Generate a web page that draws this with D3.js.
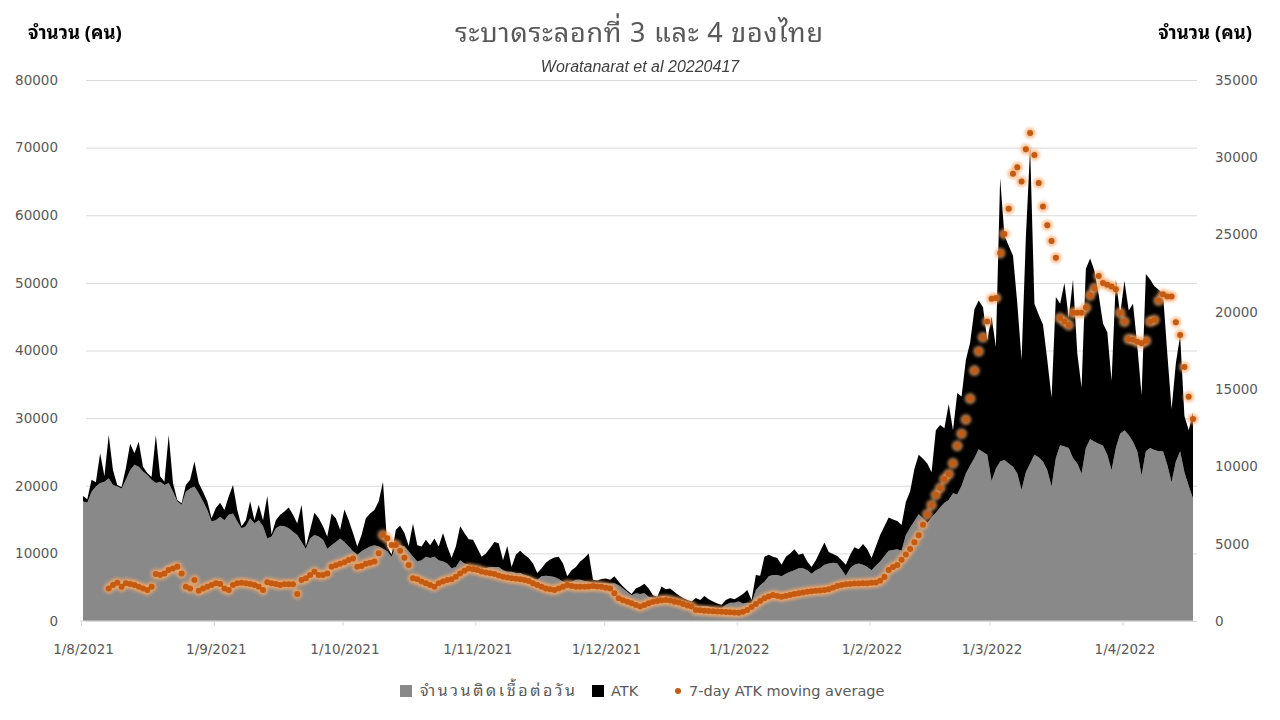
<!DOCTYPE html>
<html>
<head>
<meta charset="utf-8">
<script src="https://cdn.jsdelivr.net/npm/d3@7"></script>
<style>
  body { margin: 0; background: #fff; }
  svg { display: block; }
  .thai { font-family: Tahoma, "Noto Sans Thai Looped", Loma, Garuda, Waree, "Noto Sans Thai", "Noto Sans", sans-serif; }
  .num { font-family: "DejaVu Sans", Verdana, sans-serif; }
</style>
</head>
<body>
<div id="chart"></div>
<script>
//data, one value per day from 1/8/2021 **********************************************************************************
var startDate = new Date(2021, 7, 1);

// daily confirmed cases (grey area)
var cases = [
  17700,17500,19100,19900,20400,20600,21100,20100,19900,19600,
  20900,22300,23100,22800,22100,21600,20900,20400,20600,20100,
  20400,19100,17700,17200,19100,19600,19900,18900,17700,16400,
  14700,14900,15400,14900,15700,15900,14700,13700,14000,15200,
  14400,14900,14000,12200,12500,13700,14100,14000,13700,13200,
  12700,11700,10700,12200,12700,12500,12000,10700,11200,11700,
  12200,11700,11000,10300,9800,10300,10700,11000,11200,11000,
  10700,10300,9500,11000,11200,11000,10300,9500,8800,9000,
  9500,9300,9500,9000,8800,8500,7800,8000,9000,8500,
  8300,8000,8000,7800,7800,8000,8000,8000,7500,7300,
  7300,7100,7100,6800,6600,6300,6100,6600,6700,6600,
  6500,6200,5800,5600,5800,6100,6100,5900,5800,5600,
  5600,5600,5600,5500,5600,5300,4800,4300,3800,4100,
  4000,4100,3600,3400,3100,3700,3600,3400,3100,2900,
  2700,2400,2100,2100,2100,2200,2100,2000,1900,1900,
  2400,2700,2700,2900,2600,2700,2600,4600,5300,5800,
  6600,6800,6800,6600,7000,7300,7500,7800,7800,7500,
  7000,7500,7800,8300,8500,8600,8500,7600,6700,7800,
  8300,8500,8300,8000,7500,8200,8800,9600,10400,10500,
  10600,10400,12700,13800,14800,15800,15200,14500,15300,16000,
  16800,17500,17900,18900,18700,20000,21800,23000,24100,25400,
  25000,24600,20700,22500,23600,23800,23300,22800,21800,19400,
  22000,23300,24600,24200,23600,22300,19900,24100,26000,25800,
  25600,24100,23300,21800,25600,26900,26500,26200,25900,24600,
  22300,25600,27700,28200,27500,26500,25100,21500,25100,25600,
  25300,25100,25100,23100,20500,23600,25100,22000,20000,18100
];

// daily ATK positives (black area, stacked on cases)
var atk = [
  800,500,1800,600,4400,800,6400,2200,200,200,
  1700,3900,1700,3700,700,300,400,7100,800,500,
  7100,1300,200,200,1000,1300,3700,1500,1400,1300,
  500,1800,2100,1500,2700,4200,1700,300,900,2500,
  500,2300,900,6300,300,1200,1600,2200,3100,2500,
  1700,5500,300,1300,3300,2700,2000,1800,4700,3500,
  1300,4800,3900,2700,1200,2400,4500,4900,5200,6700,
  9900,700,300,2500,2900,2000,800,4900,2400,2000,
  2500,1900,2700,2000,4200,2500,1500,3000,5000,4500,
  3800,4000,2800,1700,2200,2800,3700,3500,1500,3800,
  700,2700,3300,3000,2700,2200,1000,1200,1900,2500,
  2900,3300,2700,1000,1700,1900,2700,3400,4200,500,
  400,600,700,600,1000,500,300,200,200,700,
  1100,1400,1200,400,500,1400,1100,1400,1200,900,
  700,700,800,1300,1000,1500,1100,900,700,500,
  700,700,500,700,1400,1900,500,2200,1400,3700,
  3200,2700,2500,1700,2500,2700,3100,2000,2200,1300,
  1000,1500,2500,3300,1700,1300,1100,1400,1600,2000,
  2600,2100,3100,2600,1800,2800,3900,4400,4900,4500,
  4200,3800,4900,5400,7700,8800,8800,8800,6700,12200,
  12200,11000,14200,9300,15000,13200,16800,18200,22000,22000,
  21400,16900,24300,18000,41900,33200,32200,31200,25200,19200,
  34700,46700,22300,21100,20200,16300,13100,23800,20900,24200,
  19200,26400,16300,12700,26500,26700,25300,22000,18100,18100,
  13200,24900,17600,22100,18400,20400,15600,11900,26200,24900,
  24200,23900,23300,16500,10800,14500,17100,8300,8200,12700
];

// 7-day ATK moving average (orange dots, right axis)
var atkAvg = [
  null,null,null,null,null,null,2110,2330,2480,2220,
  2440,2390,2330,2220,2110,2005,2220,3040,2975,3080,
  3300,3400,3510,3080,2220,2110,2650,1960,2110,2220,
  2330,2440,2390,2110,2005,2330,2440,2480,2440,2390,
  2330,2220,2005,2500,2440,2400,2330,2380,2380,2380,
  1750,2650,2760,2975,3190,2975,2975,3080,3510,3600,
  3700,3800,3945,4050,3510,3560,3700,3770,3850,4380,
  5560,5350,4915,4915,4550,4100,3620,2760,2700,2550,
  2440,2330,2220,2440,2550,2650,2700,2870,3080,3250,
  3400,3350,3300,3200,3130,3090,3040,2950,2870,2810,
  2760,2730,2700,2650,2590,2450,2330,2220,2110,2050,
  2005,2100,2220,2330,2270,2220,2220,2220,2240,2260,
  2240,2220,2150,2110,1800,1470,1350,1250,1150,1035,
  930,1030,1150,1250,1300,1340,1360,1320,1250,1190,
  1100,1000,930,710,690,670,650,630,610,600,
  580,560,550,540,600,710,900,1100,1300,1470,
  1580,1680,1620,1570,1620,1680,1740,1790,1850,1900,
  1930,1960,1980,2005,2050,2150,2270,2330,2380,2400,
  2420,2430,2440,2450,2470,2490,2600,2850,3300,3500,
  3630,3970,4300,4650,5100,5550,6230,6900,7500,8160,
  8610,9180,9500,10200,11330,12120,13030,14390,16200,17450,
  18350,19370,20850,20900,23800,25040,26670,28940,29350,28440,
  30520,31570,30140,28330,26810,25610,24590,23500,19600,19370,
  19150,19940,19940,19940,20280,21070,21530,22320,21870,21750,
  21640,21460,19940,19370,18240,18200,18060,17970,18130,19370,
  19480,20730,21140,21000,21000,19330,18510,16430,14500,13070
];

var leftTicks = [0,10000,20000,30000,40000,50000,60000,70000,80000];
var rightTicks = [0,5000,10000,15000,20000,25000,30000,35000];
var monthTicks = [
  new Date(2021,7,1), new Date(2021,8,1), new Date(2021,9,1), new Date(2021,10,1),
  new Date(2021,11,1), new Date(2022,0,1), new Date(2022,1,1), new Date(2022,2,1), new Date(2022,3,1)
];

var titleText = "ระบาดระลอกที่ 3 และ 4 ของไทย";
var subtitleText = "Woratanarat et al 20220417";
var axisTitle = "จำนวน (คน)";
var seriesNames = ["จำนวนติดเชื้อต่อวัน", "ATK", "7-day ATK moving average"];

//variables ************************************************************
var width = 1280, height = 720;
var plotL = 83, plotR = 1193, plotT = 80, plotB = 621;
var grey = "#898989", orange = "#C55A11";

var rows = cases.map(function(c, i) {
  return { date: d3.timeDay.offset(startDate, i), cases: c, atk: atk[i], avg: atkAvg[i] };
});

var x = d3.scaleTime()
  .domain([startDate, rows[rows.length - 1].date])
  .range([plotL, plotR]);
var yL = d3.scaleLinear().domain([0, 80000]).range([plotB, plotT]);
var yR = d3.scaleLinear().domain([0, 35000]).range([plotB, plotT]);

var svg = d3.select("#chart").append("svg")
  .attr("width", width)
  .attr("height", height);

var defs = svg.append("defs");
defs.append("filter").attr("id", "glow")
  .attr("x", "-100%").attr("y", "-100%").attr("width", "300%").attr("height", "300%")
  .append("feGaussianBlur").attr("stdDeviation", 1.8);

//grid + axes ************************************************************
svg.append("g")
  .attr("transform", "translate(" + plotL + ",0)")
  .call(d3.axisLeft(yL).tickValues(leftTicks).tickSize(-(plotR - plotL + 4)).tickFormat(d3.format("d")))
  .call(function(g) {
    g.select(".domain").remove();
    g.selectAll(".tick line").attr("stroke", "#d9d9d9").attr("x1", 3);
    g.selectAll(".tick text").attr("class", "num").attr("x", -25)
      .attr("fill", "#595959").style("font-size", "13.5px");
  });

svg.append("g")
  .attr("transform", "translate(" + plotR + ",0)")
  .call(d3.axisRight(yR).tickValues(rightTicks).tickSize(0).tickFormat(d3.format("d")))
  .call(function(g) {
    g.select(".domain").remove();
    g.selectAll(".tick text").attr("class", "num").attr("x", 22)
      .attr("fill", "#595959").style("font-size", "13.5px");
  });

//areas ************************************************************
var stack = d3.stack().keys(["cases", "atk"]);
var layers = stack(rows);

var area = d3.area()
  .x(function(d) { return x(d.data.date); })
  .y0(function(d) { return yL(d[0]); })
  .y1(function(d) { return yL(d[1]); });

svg.selectAll(".layer")
  .data(layers)
  .enter()
  .append("path")
  .attr("class", "layer")
  .attr("d", area)
  .attr("fill", function(d, i) { return i === 0 ? grey : "#000"; });

// x axis
svg.append("g")
  .attr("transform", "translate(0," + plotB + ")")
  .call(d3.axisBottom(x).tickValues(monthTicks).tickSize(5)
    .tickFormat(function(d) { return d.getDate() + "/" + (d.getMonth() + 1) + "/" + d.getFullYear(); }))
  .call(function(g) {
    g.select(".domain").attr("stroke", "#d9d9d9").attr("d", "M" + (plotL - 3) + ",0H" + (plotR + 1));
    g.selectAll(".tick line").attr("stroke", "#d9d9d9").attr("transform", "translate(-2,0)");
    g.selectAll(".tick text").attr("class", "num").attr("y", 23)
      .attr("fill", "#595959").style("font-size", "13.5px");
  });

//moving average dots ************************************************************
var pts = rows.filter(function(d) { return d.avg !== null; });

svg.append("g").attr("filter", "url(#glow)")
  .selectAll("circle")
  .data(pts)
  .enter()
  .append("circle")
  .attr("cx", function(d) { return x(d.date); })
  .attr("cy", function(d) { return yR(d.avg); })
  .attr("r", 5.5)
  .attr("fill", "#F5A868")
  .attr("opacity", 0.7);

svg.append("g")
  .selectAll("circle")
  .data(pts)
  .enter()
  .append("circle")
  .attr("cx", function(d) { return x(d.date); })
  .attr("cy", function(d) { return yR(d.avg); })
  .attr("r", 3)
  .attr("fill", orange);

//titles ************************************************************
svg.append("text").attr("class", "thai")
  .attr("x", 639).attr("y", 42).attr("text-anchor", "middle")
  .attr("fill", "#595959").style("font-size", "27px")
  .attr("textLength", 368).attr("lengthAdjust", "spacing")
  .text(titleText);

svg.append("text")
  .attr("x", 640).attr("y", 72).attr("text-anchor", "middle")
  .attr("fill", "#404040").style("font-size", "16px").style("font-style", "italic")
  .style("font-family", "'Liberation Sans', Arial, sans-serif")
  .text(subtitleText);

svg.append("text").attr("class", "thai")
  .attr("x", 28).attr("y", 39)
  .attr("fill", "#000").style("font-size", "18.5px").style("font-weight", "bold")
  .text(axisTitle);

svg.append("text").attr("class", "thai")
  .attr("x", 1252).attr("y", 39).attr("text-anchor", "end")
  .attr("fill", "#000").style("font-size", "18.5px").style("font-weight", "bold")
  .text(axisTitle);

//legend ************************************************************
var legend = svg.append("g").attr("transform", "translate(0,691)");

legend.append("rect").attr("x", 400).attr("y", -6).attr("width", 12).attr("height", 12).attr("fill", grey);
legend.append("text").attr("class", "thai").attr("x", 420).attr("y", 5)
  .attr("fill", "#595959").style("font-size", "16px")
  .attr("textLength", 155).attr("lengthAdjust", "spacing")
  .text(seriesNames[0]);

legend.append("rect").attr("x", 592).attr("y", -6).attr("width", 12).attr("height", 12).attr("fill", "#000");
legend.append("text").attr("class", "num").attr("x", 611).attr("y", 5)
  .attr("fill", "#595959").style("font-size", "14.5px").text(seriesNames[1]);

legend.append("circle").attr("cx", 678).attr("cy", 0).attr("r", 3).attr("fill", orange);
legend.append("text").attr("class", "num").attr("x", 689).attr("y", 5)
  .attr("fill", "#595959").style("font-size", "14.5px").text(seriesNames[2]);
</script>
</body>
</html>
